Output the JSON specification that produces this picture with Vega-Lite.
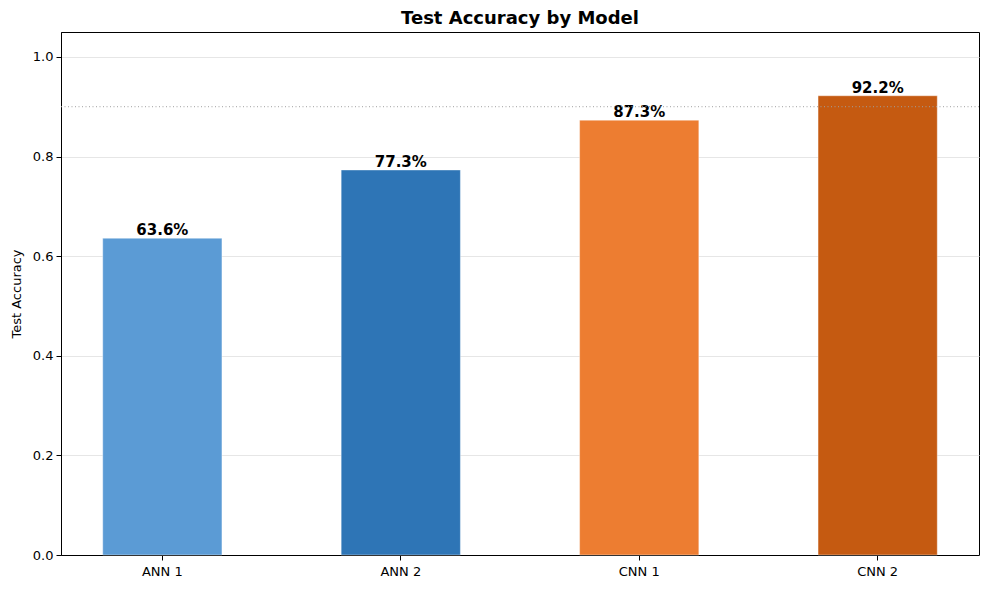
{
  "$schema": "https://vega.github.io/schema/vega-lite/v6.json",
  "width": 918,
  "height": 523,
  "autosize": {"type": "none"},
  "padding": {"left": 61, "top": 32, "right": 10, "bottom": 34},
  "background": "white",
  "title": {"text": "Test Accuracy by Model", "font": "DejaVu Sans", "fontSize": 18, "fontWeight": "bold", "color": "black", "offset": 4, "anchor": "middle"},
  "config": {
    "view": {"stroke": "black", "strokeWidth": 1},
    "font": "DejaVu Sans"
  },
  "data": {"values": [
    {"model": "ANN 1", "acc": 0.636},
    {"model": "ANN 2", "acc": 0.773},
    {"model": "CNN 1", "acc": 0.873},
    {"model": "CNN 2", "acc": 0.922}
  ]},
  "encoding": {
    "x": {"field": "model", "type": "nominal", "sort": null,
      "scale": {"paddingInner": 0.5, "paddingOuter": 0.175},
      "axis": {"title": null, "labelAngle": 0, "labelFont": "DejaVu Sans", "labelFontSize": 13, "labelColor": "black", "labelPadding": 5, "tickColor": "black", "tickSize": 5, "domainColor": "black", "grid": false}
    },
    "y": {"field": "acc", "type": "quantitative",
      "scale": {"domain": [0, 1.05], "nice": false, "zero": true},
      "axis": {"title": "Test Accuracy", "titleFont": "DejaVu Sans", "titleFontSize": 13, "titleFontWeight": "normal", "titleColor": "black", "titlePadding": 9,
        "values": [0, 0.2, 0.4, 0.6, 0.8, 1.0], "format": ".1f", "labelFont": "DejaVu Sans", "labelFontSize": 13, "labelColor": "black", "labelPadding": 3,
        "tickColor": "black", "tickSize": 5, "domainColor": "black", "grid": true, "gridColor": "#e6e6e6", "gridWidth": 1}
    }
  },
  "layer": [
    {
      "mark": {"type": "bar", "stroke": "white", "strokeOpacity": 0.4, "strokeWidth": 1},
      "encoding": {
        "color": {"field": "model", "type": "nominal", "sort": null, "legend": null,
          "scale": {"domain": ["ANN 1", "ANN 2", "CNN 1", "CNN 2"], "range": ["#5b9bd5", "#2e75b6", "#ed7d31", "#c55a11"]}}
      }
    },
    {
      "mark": {"type": "text", "baseline": "bottom", "dy": 0, "fontSize": 15, "fontWeight": "bold", "font": "DejaVu Sans", "color": "black"},
      "encoding": {"text": {"field": "acc", "type": "quantitative", "format": ".1%"}}
    },
    {
      "data": {"values": [{"y": 0.9}]},
      "mark": {"type": "rule", "color": "#a0a0a0", "strokeDash": [1, 2.5], "strokeWidth": 1},
      "encoding": {"y": {"field": "y", "type": "quantitative"}, "x": null}
    }
  ]
}
